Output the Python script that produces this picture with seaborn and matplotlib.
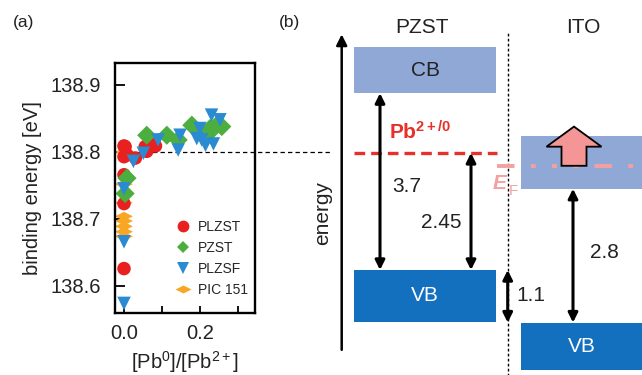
import numpy as np
import pandas as pd
import matplotlib
matplotlib.use("Agg")
import matplotlib.pyplot as plt
from matplotlib.lines import Line2D
import seaborn as sns

# ---- panel (a): binding energy vs [Pb0]/[Pb2+] ----
pic151_x = [0.0, 0.0, 0.0, 0.0, 0.0, 0.0, 0.0, 0.0]
pic151_y = [138.800, 138.752, 138.724, 138.704, 138.697, 138.689, 138.681, 138.674]

plzst_x = [0.0, 0.0, 0.003, 0.008, 0.030, 0.0, 0.0, 0.0, 0.056, 0.060, 0.070, 0.083]
plzst_y = [138.809, 138.793, 138.808, 138.796, 138.791, 138.766, 138.723, 138.626,
           138.808, 138.801, 138.813, 138.809]

pzst_x = [0.003, 0.008, 0.060, 0.113, 0.143, 0.179, 0.209, 0.220, 0.227, 0.245, 0.258]
pzst_y = [138.738, 138.761, 138.825, 138.825, 138.818, 138.840, 138.830, 138.826,
          138.835, 138.840, 138.838]

plzsf_x = [0.0, 0.0, 0.0, 0.025, 0.051, 0.090, 0.143, 0.148, 0.192, 0.200, 0.205,
           0.215, 0.231, 0.236, 0.253]
plzsf_y = [138.574, 138.666, 138.745, 138.786, 138.798, 138.818, 138.803, 138.825,
           138.820, 138.835, 138.818, 138.810, 138.855, 138.812, 138.848]

sample_order = ["PLZST", "PZST", "PLZSF", "PIC 151"]
ref_energy = 138.8

# ---- panel (b): band diagram energies (eV, PZST VB top = 0) ----
pzst_vb = 0.0
pzst_gap = 3.7
pb_level = 2.45
vb_offset = 1.1
ito_gap = 2.8
ito_ef = 2.18
band_labels = ["CB", "VB"]

df = pd.concat([
    pd.DataFrame({"x": pic151_x, "y": pic151_y, "sample": "PIC 151"}),
    pd.DataFrame({"x": plzst_x, "y": plzst_y, "sample": "PLZST"}),
    pd.DataFrame({"x": pzst_x, "y": pzst_y, "sample": "PZST"}),
    pd.DataFrame({"x": plzsf_x, "y": plzsf_y, "sample": "PLZSF"}),
], ignore_index=True)

sns.set_theme(style="white")
plt.rcParams["font.family"] = ["Liberation Sans", "DejaVu Sans"]
plt.rcParams["mathtext.fontset"] = "custom"
plt.rcParams["mathtext.rm"] = "Liberation Sans"
plt.rcParams["mathtext.bf"] = "Liberation Sans:bold"
plt.rcParams["mathtext.it"] = "Liberation Sans:italic"

W, H = 642, 375
txt = "#222222"
fig = plt.figure(figsize=(W / 100, H / 100), dpi=100)

# ---------------- panel (a) ----------------
ax = fig.add_axes([115 / W, 62 / H, 140 / W, 250 / H])
palette = {"PLZST": "#e8201f", "PZST": "#4cae3e", "PLZSF": "#2a8bd3", "PIC 151": "#f8a623"}
flat_diamond = [(-1, 0), (0, 0.5), (1, 0), (0, -0.5), (-1, 0)]
markers = {"PLZST": "o", "PZST": "D", "PLZSF": "v", "PIC 151": flat_diamond}
sns.scatterplot(data=df, x="x", y="y", hue="sample", style="sample",
                hue_order=sample_order, style_order=sample_order,
                palette=palette, markers=markers, s=95, linewidth=0, alpha=1,
                legend=False, ax=ax)
# the flat PIC 151 diamonds are drawn a bit wider, as in the original
is_pic = (df["sample"] == "PIC 151").to_numpy()
ax.collections[0].set_sizes(np.where(is_pic, 165, 95))

ax.set_xlim(-0.0237, 0.3456)
ax.set_ylim(138.5597, 138.9328)
ax.set_xticks([0.0, 0.1, 0.2, 0.3])
ax.set_xticklabels(["0.0", "", "0.2", ""])
ax.set_yticks([138.6, 138.7, 138.8, 138.9])
ax.set_yticklabels(["138.6", "138.7", "138.8", "138.9"])
ax.tick_params(axis="both", direction="in", labelsize=14.5, width=1.3, color="black",
               labelcolor=txt)
ax.tick_params(axis="y", length=7.5, pad=10, left=True)
ax.tick_params(axis="x", length=5, pad=8, bottom=True)
for side in ax.spines.values():
    side.set_color("black")
    side.set_linewidth(1.7)
ax.set_xlabel("[Pb$^{0}$]/[Pb$^{2+}$]", fontsize=14.5, color=txt, labelpad=4)
ax.set_ylabel("binding energy [eV]", fontsize=14.5, color=txt, labelpad=6)

ax.plot([0, 1.536], [ref_energy, ref_energy], transform=ax.get_yaxis_transform(),
        color="black", lw=0.9, ls=(0, (3.5, 2.5)), clip_on=False, zorder=0)

legend_marker_size = {"PLZST": 8.5, "PZST": 6.6, "PLZSF": 8.5, "PIC 151": 11.5}
handles = [Line2D([], [], ls="none", marker=markers[k], color=palette[k],
                  markersize=legend_marker_size[k], markeredgewidth=0, label=k)
           for k in sample_order]
ax.legend(handles=handles, loc="upper left", bbox_to_anchor=(0.37, 0.395),
          frameon=False, fontsize=10, handletextpad=0.25, labelspacing=0.5,
          borderaxespad=0, handlelength=1.6)

# ---------------- panel (b) ----------------
bx = fig.add_axes([280 / W, 0, (W - 280) / W, 1])
bx.set_xlim(280, W)
bx.set_ylim((270 - H) / 47.8, 270 / 47.8)
bx.axis("off")
bx.patch.set_alpha(0)

cb_color = "#8fa8d6"
vb_color = "#1370bf"
pzst_cb = pzst_vb + pzst_gap
ito_vb = pzst_vb - vb_offset
ito_cb = ito_vb + ito_gap

bx.bar(425, 0.96, width=142, bottom=pzst_cb, color=cb_color, linewidth=0)
bx.bar(425, -1.08, width=142, bottom=pzst_vb, color=vb_color, linewidth=0)
bx.bar(581.5, 1.1, width=121, bottom=ito_cb, color=cb_color, linewidth=0)
bx.bar(581.5, -1.0, width=121, bottom=ito_vb, color=vb_color, linewidth=0)

bx.text(425, pzst_cb + 0.48, band_labels[0], ha="center", va="center", fontsize=15, color=txt)
bx.text(425, pzst_vb - 0.54, band_labels[1], ha="center", va="center", fontsize=15, color="white")
bx.text(581.5, ito_vb - 0.5, band_labels[1], ha="center", va="center", fontsize=15, color="white")

bx.text(422, 5.08, "PZST", ha="center", va="center", fontsize=15, color=txt)
bx.text(583, 5.08, "ITO", ha="center", va="center", fontsize=15, color=txt)

# energy axis arrow
bx.annotate("", xy=(341.7, 4.93), xytext=(341.7, -1.67),
            arrowprops=dict(arrowstyle="-|>", lw=1.8, color="black",
                            mutation_scale=16, shrinkA=0, shrinkB=0))
bx.text(323, 1.19, "energy", rotation=90, ha="center", va="center", fontsize=15,
        color=txt)

# interface dotted line
bx.vlines(507.7, -2.3, 4.96, color="black", lw=1.0, linestyles=(0, (2, 1.6)))

# Pb level and Fermi level
bx.hlines(pb_level, 354, 497, color="#e8302a", lw=2.4, linestyles=(0, (3.2, 1.8)))
bx.text(420, pb_level + 0.43, r"Pb$^{\mathbf{2+/0}}$", ha="center", va="center",
        fontsize=15, color="#e8302a", fontweight="bold")
ef_color = "#f5a0a0"
bx.hlines(ito_ef, 497, W, color=ef_color, lw=2.8,
          linestyles=(0, (4.5, 4.2, 1.25, 4.2, 1.25, 4.2, 1.25, 4.2)))
bx.text(500, ito_ef - 0.37, "E", ha="center", va="center", fontsize=15,
        color=ef_color, fontweight="bold", fontstyle="italic", zorder=6)
bx.text(513, ito_ef - 0.52, "F", ha="center", va="center", fontsize=11,
        color=ef_color, zorder=6)

bx.arrow(574, ito_ef, 0, 0.82, width=25, head_width=55, head_length=0.42,
         length_includes_head=True, facecolor="#f49696", edgecolor="black", lw=1.3,
         zorder=5)

# double arrows with gap values
gaps = [(380, pzst_vb, pzst_cb, f"{pzst_gap:g}", 407, 1.74),
        (471, pzst_vb, pb_level, f"{pb_level:g}", 441.7, 1.0),
        (507.7, ito_vb, pzst_vb, f"{vb_offset:g}", 531, -0.54),
        (573, ito_vb, ito_cb, f"{ito_gap:g}", 604, 0.36)]
for gx, y0, y1, lab, tx, ty in gaps:
    bx.annotate("", xy=(gx, y1), xytext=(gx, y0),
                arrowprops=dict(arrowstyle="<|-|>", lw=2.2, color="black",
                                mutation_scale=14, shrinkA=0, shrinkB=0))
    bx.text(tx, ty, lab, ha="center", va="center", fontsize=15, color=txt)

fig.text(24 / W, 1 - 23 / H, "(a)", ha="center", va="center", fontsize=12.5, color=txt)
fig.text(290 / W, 1 - 23 / H, "(b)", ha="center", va="center", fontsize=12.5, color=txt)

fig.savefig("out.png", dpi=100)
plt.close(fig)
